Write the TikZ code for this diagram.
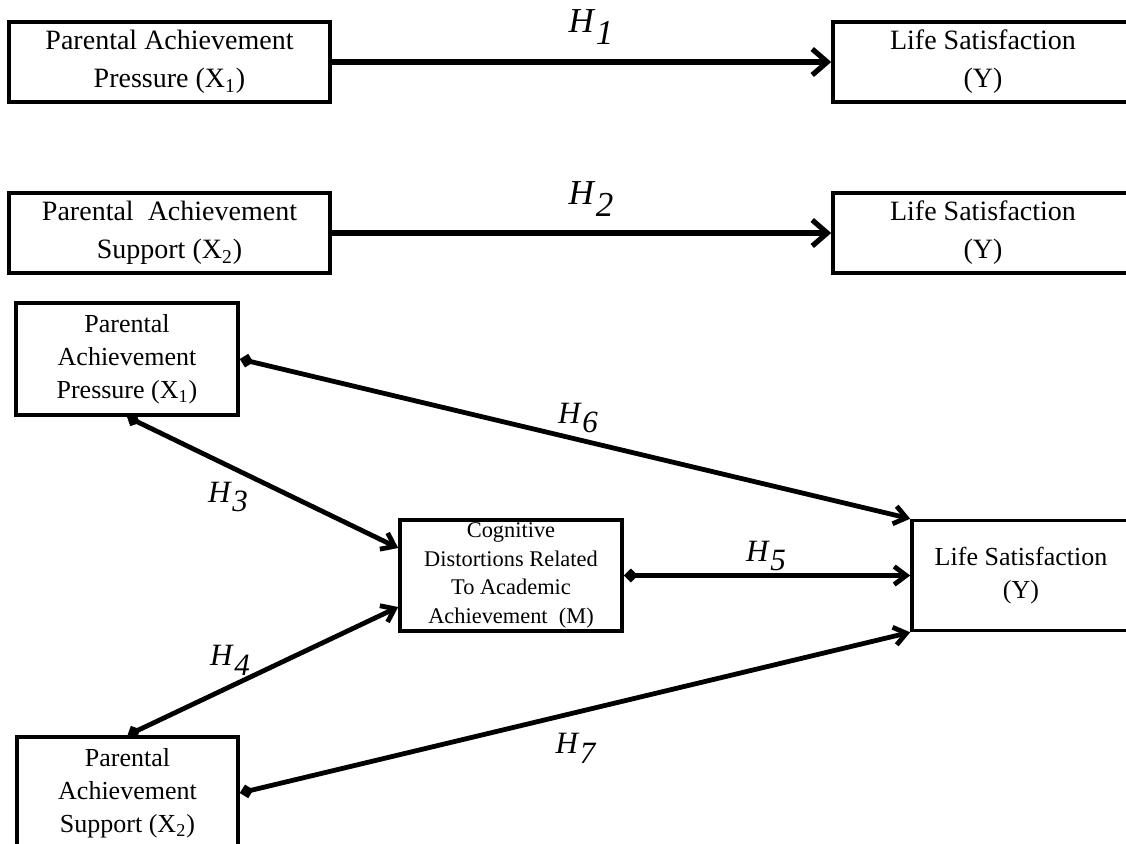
\documentclass[tikz,border=0pt]{standalone}
\usepackage{fontspec}
\setmainfont{Liberation Serif}
\usetikzlibrary{arrows.meta}
\newcommand{\hyp}[1]{\textit{H}\kern0.3pt\raisebox{-0.32em}{\textit{#1}}}
\tikzset{
  box/.style={draw, line width=1.8pt, inner sep=0pt, align=center, fill=white},
  bigtxt/.style={font=\fontsize{14}{19}\selectfont},
  midtxt/.style={font=\fontsize{13}{16.5}\selectfont},
  smalltxt/.style={font=\fontsize{11.2}{14.2}\selectfont},
  toparrow/.style={line width=2.6pt, -{Straight Barb[length=7.5pt,width=13pt]}},
  linkarrow/.style={line width=2.4pt, {Turned Square[length=7pt,width=7pt]}-{Straight Barb[length=6pt,width=9pt]}},
  toplabel/.style={inner sep=0pt, font=\fontsize{17.5}{17.5}\selectfont},
  hlabel/.style={inner sep=0pt, font=\fontsize{15.5}{15.5}\selectfont}
}
\begin{document}
\begin{tikzpicture}[x=0.5pt, y=-0.5pt]
\useasboundingbox (0,0) rectangle (1126,843);
\clip (0,0) rectangle (1126,843);
\fill[white] (0,0) rectangle (1126,843);

% top row
\node[box, bigtxt, minimum width=160.5pt, minimum height=40pt] (A1) at (169.5,62)
  {Parental Achievement\\Pressure (X\textsubscript{1})};
\node[box, bigtxt, minimum width=150pt, minimum height=40pt] (Y1) at (983,62)
  {Life Satisfaction\\(Y)};
\node[toplabel] (L1) at (591,27) {\hyp{1}};
\draw[toparrow] (A1.east) -- (Y1.west);

% second row
\node[box, bigtxt, minimum width=160.5pt, minimum height=40pt] (A2) at (169.5,233)
  {Parental~~Achievement\\Support (X\textsubscript{2})};
\node[box, bigtxt, minimum width=150pt, minimum height=40pt] (Y2) at (983,233)
  {Life Satisfaction\\(Y)};
\node[toplabel] (L2) at (591,199) {\hyp{2}};
\draw[toparrow] (A2.east) -- (Y2.west);

% mediation model
\node[box, midtxt, minimum width=111pt, minimum height=56pt] (P) at (127,359)
  {Parental\\Achievement\\Pressure (X\textsubscript{1})};
\node[box, midtxt, minimum width=110.5pt, minimum height=56pt] (S) at (127.5,793)
  {Parental\\Achievement\\Support (X\textsubscript{2})};
\node[box, smalltxt, minimum width=111pt, minimum height=55.5pt] (M) at (511,575.5)
  {Cognitive\\Distortions Related\\To Academic\\Achievement~~(M)};
\node[box, midtxt, minimum width=109pt, minimum height=55pt] (Y3) at (1021,575.5)
  {Life Satisfaction\\(Y)};

\draw[linkarrow] (P.east) -- (Y3.north west);
\draw[linkarrow] (P.south) -- ([yshift=13.75pt]M.west);
\draw[linkarrow] (S.north) -- ([yshift=-15.75pt]M.west);
\draw[linkarrow] (M.east) -- (Y3.west);
\draw[linkarrow] (S.east) -- (Y3.south west);

\node[hlabel] (L3) at (228,497) {\hyp{3}};
\node[hlabel] (L4) at (230,660) {\hyp{4}};
\node[hlabel] (L5) at (766,556) {\hyp{5}};
\node[hlabel] (L6) at (578,418) {\hyp{6}};
\node[hlabel] (L7) at (576,748) {\hyp{7}};
\end{tikzpicture}
\end{document}
